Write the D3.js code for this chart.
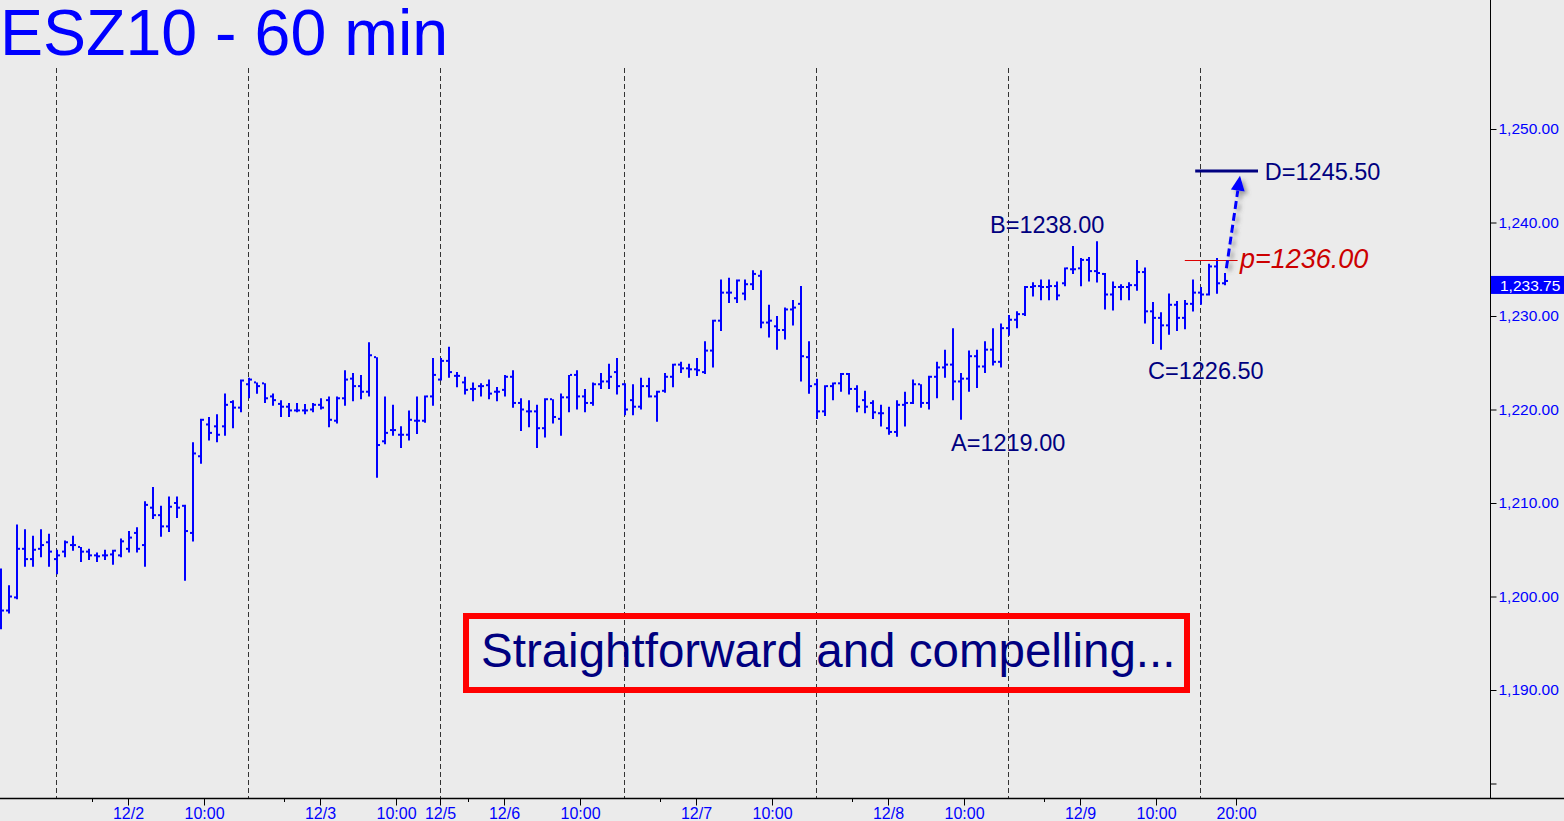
<!DOCTYPE html>
<html>
<head>
<meta charset="utf-8">
<script src="https://cdn.jsdelivr.net/npm/d3@7"></script>
<style>
html,body{margin:0;padding:0;background:#ebebeb;}
svg{display:block;}
text{font-family:"Liberation Sans",Arial,sans-serif;}
</style>
</head>
<body>
<svg id="chart" width="1564" height="821"></svg>
<script>
// ---- DATA ----
const title = "ESZ10 - 60 min";
const opens  = [1197.5,1198.5,1199.9,1205.1,1204.0,1205.1,1205.8,1204.0,1204.8,1205.5,1205.3,1204.8,1204.4,1204.4,1204.5,1204.4,1205.1,1206.8,1205.5,1209.5,1208.7,1207.5,1210.0,1209.7,1206.8,1215.0,1218.4,1218.2,1218.2,1220.8,1220.2,1222.7,1222.9,1222.8,1221.4,1220.6,1220.3,1219.9,1219.9,1220.0,1220.5,1221.0,1218.8,1221.2,1223.3,1222.5,1221.9,1225.6,1216.6,1217.8,1217.3,1217.3,1218.8,1218.8,1221.4,1223.2,1225.2,1223.6,1222.9,1222.2,1222.5,1222.6,1221.9,1222.1,1223.5,1220.7,1219.8,1219.8,1218.0,1221.1,1219.0,1221.3,1223.7,1221.4,1220.7,1222.7,1223.0,1224.0,1222.7,1221.0,1220.3,1222.5,1221.4,1222.0,1223.5,1224.8,1224.4,1224.3,1224.0,1226.3,1229.5,1232.5,1231.9,1232.4,1233.4,1234.3,1229.3,1228.9,1228.5,1230.7,1231.3,1225.6,1222.7,1219.8,1222.5,1222.8,1223.8,1222.2,1221.0,1220.7,1219.6,1218.0,1217.6,1220.5,1220.7,1222.7,1220.7,1223.5,1224.5,1224.8,1223.0,1223.3,1225.7,1224.6,1226.4,1225.1,1228.7,1229.6,1230.2,1233.1,1233.2,1233.1,1233.2,1233.5,1235.0,1235.1,1236.0,1234.8,1234.5,1232.3,1233.1,1233.1,1233.3,1234.7,1230.5,1229.8,1229.0,1231.2,1229.8,1231.3,1232.5,1232.3,1235.3,1233.5];
const highs  = [1203.0,1201.2,1207.7,1207.2,1206.5,1207.2,1206.7,1205.0,1206.0,1206.5,1205.3,1205.1,1204.7,1205.0,1205.0,1206.2,1207.0,1207.4,1210.2,1211.7,1209.7,1210.7,1210.7,1209.8,1216.5,1219.0,1219.2,1219.5,1221.7,1221.0,1223.2,1223.4,1222.9,1222.8,1221.7,1221.0,1220.7,1220.7,1220.6,1220.7,1221.2,1221.4,1221.4,1224.2,1223.9,1223.7,1227.2,1225.6,1221.4,1220.5,1218.2,1219.9,1221.4,1221.5,1225.5,1225.5,1226.7,1224.0,1223.5,1222.9,1222.8,1223.2,1222.4,1223.7,1224.2,1221.2,1221.0,1220.5,1221.2,1221.1,1221.7,1223.7,1224.2,1222.2,1222.9,1223.9,1224.9,1225.5,1222.8,1222.7,1223.4,1223.4,1222.0,1223.9,1224.9,1225.1,1224.9,1225.5,1227.3,1229.6,1233.9,1234.1,1233.9,1233.9,1234.9,1234.9,1231.2,1230.0,1230.9,1231.7,1233.2,1227.3,1223.3,1222.6,1222.9,1223.9,1223.9,1222.6,1222.0,1221.0,1220.5,1220.3,1221.0,1221.9,1223.2,1222.7,1223.6,1225.1,1226.4,1228.7,1223.9,1226.3,1226.4,1227.3,1228.7,1229.2,1230.1,1230.5,1233.2,1233.6,1233.9,1233.9,1233.7,1235.2,1237.5,1236.2,1236.3,1238.0,1234.6,1233.7,1233.4,1233.6,1236.0,1235.2,1231.5,1230.4,1232.4,1231.6,1231.7,1233.9,1233.1,1235.6,1236.2,1234.6];
const lows   = [1196.6,1198.3,1199.8,1203.3,1203.3,1204.3,1203.3,1202.5,1204.3,1205.0,1203.8,1204.0,1203.8,1204.0,1203.5,1204.3,1204.8,1204.8,1203.3,1208.4,1206.5,1207.0,1208.5,1201.8,1206.0,1214.3,1216.8,1216.6,1217.3,1218.1,1219.8,1221.3,1221.8,1220.8,1220.5,1219.3,1219.3,1219.8,1219.6,1219.8,1220.1,1218.2,1218.6,1220.5,1221.0,1221.2,1221.5,1212.8,1216.4,1217.3,1216.0,1216.8,1217.5,1218.7,1220.5,1223.2,1223.5,1222.5,1221.7,1221.0,1221.5,1221.2,1221.0,1221.5,1220.3,1217.8,1218.2,1216.0,1217.1,1218.6,1217.3,1219.8,1220.1,1219.8,1220.5,1222.3,1222.3,1221.7,1219.5,1219.5,1220.1,1221.4,1218.8,1221.9,1222.5,1224.0,1223.5,1223.7,1223.9,1224.6,1228.5,1231.5,1231.5,1231.8,1232.9,1228.8,1227.8,1226.5,1227.6,1229.1,1223.1,1221.8,1219.1,1219.4,1221.1,1222.0,1221.7,1219.8,1219.7,1219.1,1218.3,1217.4,1217.2,1218.3,1220.7,1220.3,1220.1,1221.3,1223.5,1221.1,1219.0,1222.0,1222.4,1224.0,1224.8,1224.6,1228.0,1228.8,1230.1,1232.2,1231.8,1231.8,1231.8,1233.3,1234.6,1233.3,1233.8,1233.7,1230.8,1230.7,1231.8,1231.8,1232.8,1229.3,1227.1,1226.5,1228.1,1228.5,1228.7,1230.6,1231.3,1232.3,1232.5,1233.4];
const closes = [1198.5,1200.0,1205.1,1204.0,1205.0,1205.5,1204.8,1204.4,1205.8,1205.5,1204.8,1204.4,1204.3,1204.4,1204.9,1205.9,1206.3,1205.1,1209.8,1208.7,1207.5,1209.6,1209.5,1207.0,1215.3,1218.9,1217.5,1217.3,1220.5,1220.2,1223.1,1223.2,1222.5,1221.2,1221.0,1220.3,1219.9,1219.9,1219.9,1220.5,1220.2,1218.9,1221.2,1223.2,1222.5,1221.9,1225.8,1216.2,1217.5,1217.8,1217.3,1218.9,1218.8,1221.4,1223.7,1225.2,1224.0,1223.6,1222.1,1222.2,1222.5,1221.7,1221.9,1223.5,1220.7,1220.0,1219.8,1218.0,1221.1,1219.2,1221.3,1223.7,1221.4,1220.7,1222.7,1223.0,1223.5,1222.5,1220.0,1220.3,1222.5,1221.4,1221.9,1223.5,1224.8,1224.4,1224.3,1224.2,1226.3,1229.5,1232.5,1232.5,1233.8,1233.4,1234.5,1229.3,1229.5,1228.5,1230.7,1230.9,1225.7,1222.5,1219.8,1222.5,1222.8,1223.8,1222.2,1220.3,1220.3,1219.7,1219.6,1217.6,1220.5,1220.7,1222.7,1220.7,1223.5,1224.5,1224.8,1223.0,1223.3,1225.7,1224.6,1226.4,1225.1,1228.7,1229.6,1230.2,1233.1,1233.2,1233.1,1233.2,1232.2,1235.1,1235.0,1236.0,1234.8,1234.6,1232.3,1233.1,1233.1,1233.3,1234.7,1230.5,1229.8,1229.0,1231.2,1229.8,1231.3,1232.5,1232.3,1235.3,1233.5,1233.75];

const sessionBreaks = [7, 31, 55, 78, 102, 126, 150];
const xTickBars   = [16, 25.5, 40, 49.5, 55, 63, 72.5, 87, 96.5, 111, 120.5, 135, 144.5, 154.5];
const xTickLabels = ["12/2","10:00","12/3","10:00","12/5","12/6","10:00","12/7","10:00","12/8","10:00","12/9","10:00","20:00"];
const xMinorBars  = [11.5, 35.5, 58.5, 82.5, 106.5, 130.5];
const yTicks      = [1180, 1190, 1200, 1210, 1220, 1230, 1240, 1250];
const yTickLabels = ["", "1,190.00", "1,200.00", "1,210.00", "1,220.00", "1,230.00", "1,240.00", "1,250.00"];
const lastPrice = 1233.75;

const pointLabels = ["A=1219.00", "B=1238.00", "C=1226.50"];
const pointBars   = [120, 137, 145];
const pointPrices = [1219.00, 1238.00, 1226.50];
const targetLabel = "D=1245.50", targetPrice = 1245.50;
const pivotLabel  = "p=1236.00", pivotPrice  = 1236.00;
const boxText = "Straightforward and compelling...";

// ---- CHART ----
const W = 1564, H = 821;
const svg = d3.select("#chart");
const x = d3.scaleLinear().domain([0, 1]).range([0, 8]);        // bar index -> px
const y = d3.scaleLinear().domain([1190, 1250]).range([690, 129]);
const axisX = 1490, axisY = 798;
const BLUE = "#0000ff", NAVY = "#000080";

svg.append("rect").attr("width", W).attr("height", H).attr("fill", "#ebebeb");

const defs = svg.append("defs");
const f = defs.append("filter").attr("id", "shadow").attr("x", "-50%").attr("y", "-50%").attr("width", "200%").attr("height", "200%");
f.append("feDropShadow").attr("dx", 3).attr("dy", 3).attr("stdDeviation", 2).attr("flood-color", "#555").attr("flood-opacity", 0.55);

// session separators
svg.append("g").selectAll("line").data(sessionBreaks).join("line")
  .attr("x1", d => x(d) + 0.5).attr("x2", d => x(d) + 0.5)
  .attr("y1", 68).attr("y2", axisY)
  .attr("stroke", "#333").attr("stroke-width", 1).attr("stroke-dasharray", "5,3");

// title
svg.append("text").attr("x", 0).attr("y", 55).attr("fill", BLUE)
  .attr("font-size", 64.5).text(title);

// right axis
const yAxis = d3.axisRight(y).tickValues(yTicks)
  .tickFormat((d, i) => yTickLabels[i]).tickSize(6).tickPadding(2);
const gy = svg.append("g").attr("transform", `translate(${axisX + 0.5},0)`).call(yAxis);
gy.select(".domain").remove();
gy.selectAll(".tick line").attr("stroke", "#000");
gy.selectAll(".tick text").attr("fill", BLUE).attr("font-size", 15.5)
  .attr("font-family", "'Liberation Sans',Arial,sans-serif");
svg.append("line").attr("x1", axisX + 0.5).attr("x2", axisX + 0.5).attr("y1", 0).attr("y2", axisY)
  .attr("stroke", "#000");

// bottom axis
const xAxis = d3.axisBottom(x).tickValues(xTickBars)
  .tickFormat((d, i) => xTickLabels[i]).tickSize(7).tickPadding(2);
const gx = svg.append("g").attr("transform", `translate(0,${axisY + 0.5})`).call(xAxis);
gx.select(".domain").remove();
gx.selectAll(".tick line").attr("stroke", "#000");
gx.selectAll(".tick text").attr("fill", BLUE).attr("font-size", 16)
  .attr("font-family", "'Liberation Sans',Arial,sans-serif");
svg.append("g").selectAll("line").data(xMinorBars).join("line")
  .attr("x1", d => Math.round(x(d)) + 0.5).attr("x2", d => Math.round(x(d)) + 0.5)
  .attr("y1", axisY).attr("y2", axisY + 4).attr("stroke", "#000");
svg.append("line").attr("x1", 0).attr("x2", W).attr("y1", axisY + 0.5).attr("y2", axisY + 0.5)
  .attr("stroke", "#000").attr("stroke-width", 1.5);

// last price tag
svg.append("rect").attr("x", axisX + 1).attr("y", y(lastPrice) - 5).attr("width", W - axisX - 1).attr("height", 18)
  .attr("fill", BLUE);
svg.append("text").attr("x", axisX + 10).attr("y", y(lastPrice) + 4).attr("dy", "0.36em")
  .attr("fill", "#fff").attr("font-size", 15.5).text(d3.format(",.2f")(lastPrice));

// OHLC bars
const bars = d3.range(opens.length);
const gb = svg.append("g");
gb.selectAll("line.hl").data(bars).join("line").attr("class", "hl")
  .attr("x1", i => x(i) + 1).attr("x2", i => x(i) + 1)
  .attr("y1", i => y(highs[i])).attr("y2", i => y(lows[i]) + 1)
  .attr("stroke", BLUE).attr("stroke-width", 2);
gb.selectAll("rect.o").data(bars).join("rect").attr("class", "o")
  .attr("x", i => x(i) - 2).attr("y", i => y(opens[i]) - 1).attr("width", 2).attr("height", 2)
  .attr("fill", BLUE);
gb.selectAll("rect.c").data(bars).join("rect").attr("class", "c")
  .attr("x", i => x(i) + 2).attr("y", i => y(closes[i]) - 1).attr("width", 2).attr("height", 2)
  .attr("fill", BLUE);

// A, B, C labels
const labelOffsetsX = [-9, -106, -12];
const labelOffsetsY = [24, -17, 22];
svg.append("g").selectAll("text").data(pointLabels).join("text")
  .attr("x", (d, i) => x(pointBars[i]) + labelOffsetsX[i])
  .attr("y", (d, i) => y(pointPrices[i]) + labelOffsetsY[i])
  .attr("dy", "0.36em").attr("fill", NAVY).attr("font-size", 23.5).text(d => d);

// pivot line & label
svg.append("line").attr("x1", x(148.1)).attr("x2", x(154.7))
  .attr("y1", Math.round(y(pivotPrice)) + 0.5).attr("y2", Math.round(y(pivotPrice)) + 0.5)
  .attr("stroke", "#dd0000").attr("stroke-width", 1);
svg.append("text").attr("x", x(155)).attr("y", y(pivotPrice) - 2).attr("dy", "0.36em")
  .attr("fill", "#cc0000").attr("font-size", 27).attr("font-style", "italic").text(pivotLabel);

// target line & label
svg.append("line").attr("x1", x(149.4)).attr("x2", x(157.25))
  .attr("y1", y(targetPrice)).attr("y2", y(targetPrice))
  .attr("stroke", NAVY).attr("stroke-width", 3);
svg.append("text").attr("x", x(158.1)).attr("y", y(targetPrice)).attr("dy", "0.36em")
  .attr("fill", NAVY).attr("font-size", 23.5).text(targetLabel);

// dashed arrow
const ga = svg.append("g").attr("filter", "url(#shadow)");
const ax0 = x(153.3), ay0 = y(1235.1), ax1 = x(155), ay1 = y(1245.0);
const ang = Math.atan2(ay1 - ay0, ax1 - ax0);
const headLen = 15, headW = 7;
const bx = ax1 - headLen * Math.cos(ang), by = ay1 - headLen * Math.sin(ang);
ga.append("line").attr("x1", ax0).attr("y1", ay0).attr("x2", bx).attr("y2", by)
  .attr("stroke", BLUE).attr("stroke-width", 3).attr("stroke-dasharray", "8,4");
ga.append("path").attr("d", d3.line()([
  [ax1, ay1],
  [bx + headW * Math.sin(ang), by - headW * Math.cos(ang)],
  [bx - headW * Math.sin(ang), by + headW * Math.cos(ang)]
]) + "Z").attr("fill", BLUE);

// caption box
svg.append("rect").attr("x", 466).attr("y", 616).attr("width", 721).attr("height", 74)
  .attr("fill", "none").attr("stroke", "#ff0000").attr("stroke-width", 6);
svg.append("text").attr("x", 481).attr("y", 667).attr("fill", NAVY)
  .attr("font-size", 47.5).text(boxText);
</script>
</body>
</html>
